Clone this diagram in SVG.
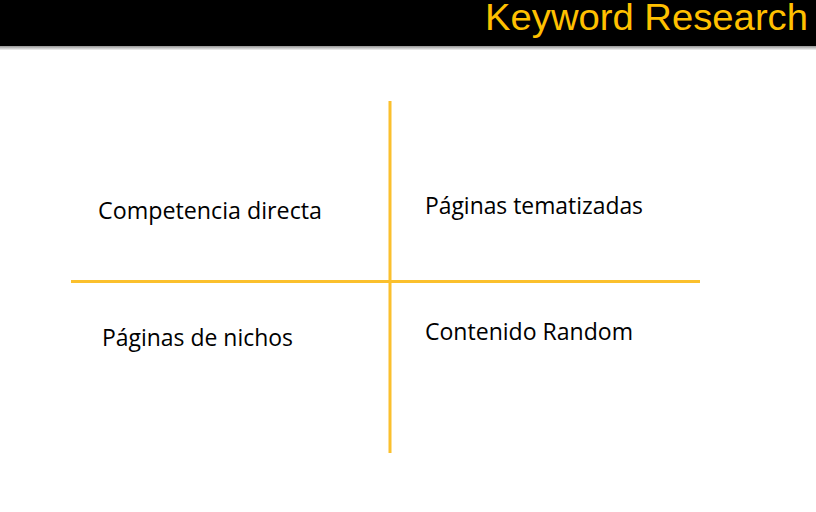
<svg xmlns="http://www.w3.org/2000/svg" width="816" height="512" viewBox="0 0 816 512">
<defs>
<linearGradient id="shadow" x1="0" y1="0" x2="0" y2="1">
<stop offset="0" stop-color="#888"/>
<stop offset="1" stop-color="#fff"/>
</linearGradient>
</defs>
<style>
.lbl{font-family:"Open Sans","Noto Sans","Liberation Sans",sans-serif;font-size:23px;fill:#000}
.title{font-family:"Liberation Sans",Arial,sans-serif;font-size:36px;fill:#FFC000}
.axis{stroke:#FBC02D;stroke-width:3;fill:none}
</style>
<rect x="0" y="0" width="816" height="512" fill="#fff"/>
<g id="header">
<rect x="0" y="45.5" width="816" height="5" fill="url(#shadow)"/>
<rect x="0" y="0" width="816" height="46" fill="#000"/>
<text class="title" x="485" y="30" textLength="323" lengthAdjust="spacingAndGlyphs">Keyword Research</text>
</g>
<g id="connectors">
<line class="axis" x1="71" y1="281.5" x2="700" y2="281.5"/>
<line class="axis" x1="390" y1="101" x2="390" y2="453"/>
</g>
<g id="q1"><text class="lbl" x="98" y="219" textLength="224" lengthAdjust="spacingAndGlyphs">Competencia directa</text></g>
<g id="q2"><text class="lbl" x="425" y="214" textLength="218" lengthAdjust="spacingAndGlyphs">Páginas tematizadas</text></g>
<g id="q3"><text class="lbl" x="102" y="346" textLength="191" lengthAdjust="spacingAndGlyphs">Páginas de nichos</text></g>
<g id="q4"><text class="lbl" x="425" y="340" textLength="208" lengthAdjust="spacingAndGlyphs">Contenido Random</text></g>
</svg>
